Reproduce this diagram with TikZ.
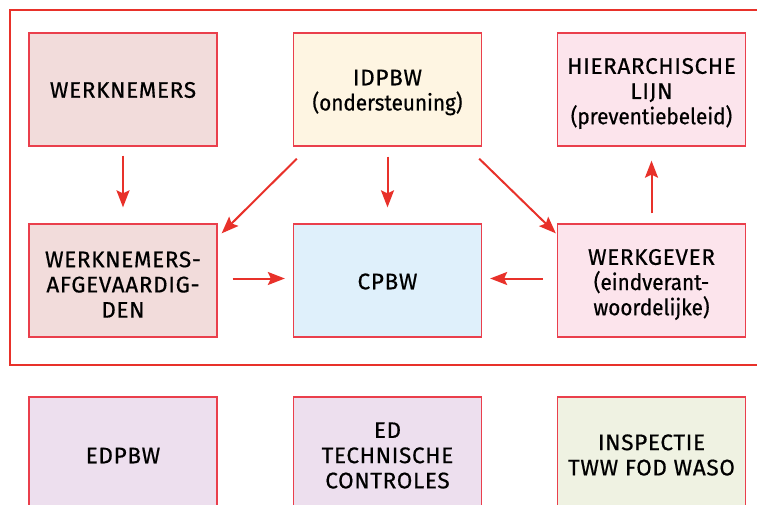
\documentclass[tikz,border=0pt]{standalone}
\usepackage{fontspec}
\setmainfont{Fira Sans}[LetterSpace=3, FakeBold=0.6]
\newfontfamily\lcfamily{Fira Sans}[FakeStretch=0.92, FakeBold=0.6]
\newcommand{\lcline}[1]{{\lcfamily #1}}
\usetikzlibrary{arrows.meta,calc}
\definecolor{frame}{HTML}{E8312A}
\definecolor{boxline}{HTML}{EA3F4C}
\definecolor{fA}{HTML}{F2DCDB}
\definecolor{fB}{HTML}{FEF5E2}
\definecolor{fC}{HTML}{FCE4EC}
\definecolor{fD}{HTML}{DFF0FB}
\definecolor{fE}{HTML}{EDDFEE}
\definecolor{fF}{HTML}{EFF2E2}
\tikzset{
  box/.style={draw=boxline, line width=1.3pt, minimum width=188pt, minimum height=113pt,
    inner sep=0pt},
  lbl/.style={inner sep=0pt, align=center, font=\fontsize{22.5}{25.2}\selectfont, text=black},
  arr/.style={draw=frame, line width=2pt, -{Stealth[length=17pt,width=13pt,inset=3pt]}}
}
\begin{document}
\begin{tikzpicture}[x=1pt,y=-1pt]
\useasboundingbox (0,0) rectangle (757,505);
\clip (0,0) rectangle (757,505);
\draw[frame, line width=1.2pt] (10,10) rectangle (790,365);
\node[box, fill=fA, label={[lbl,yshift=-0.5pt]center:{WERKNEMERS}}] (wn) at (123,89.5) {};
\node[box, fill=fB, label={[lbl,yshift=-3pt]center:{IDPBW\\\lcline{(ondersteuning)}}}] (id) at (387.5,89.5) {};
\node[box, fill=fC, label={[lbl,yshift=-4pt]center:{HIERARCHISCHE\\LIJN\\\lcline{(preventiebeleid)}}}] (hl) at (651.5,89.5) {};
\node[box, fill=fA, label={[lbl,yshift=-4pt]center:{WERKNEMERS-\\AFGEVAARDIG-\\DEN}}] (wa) at (123,280.5) {};
\node[box, fill=fD, label={[lbl,yshift=-1pt]center:{CPBW}}] (cp) at (387.5,280.5) {};
\node[box, fill=fC, label={[lbl,yshift=-4pt]center:{WERKGEVER\\\lcline{(eindverant-}\\\lcline{woordelijke)}}}] (wg) at (651.5,280.5) {};
\node[box, fill=fE, label={[lbl,yshift=-2pt]center:{EDPBW}}] (ed) at (123,453.5) {};
\node[box, fill=fE, label={[lbl,yshift=-2pt]center:{ED\\TECHNISCHE\\CONTROLES}}] (tc) at (387.5,453.5) {};
\node[box, fill=fF, label={[lbl,yshift=-1.5pt]center:{INSPECTIE\\TWW FOD WASO}}] (in) at (651.5,453.5) {};
\draw[arr, shorten <=9pt, shorten >=16pt] (wn) -- (wa);
\draw[arr, shorten <=10pt, shorten >=16pt] (id) -- (cp);
\draw[arr, shorten <=10pt, shorten >=14pt] (wg) -- (hl);
\draw[arr] ([shift={(4,12)}]id.south west) -- ([shift={(4,10)}]wa.north east);
\draw[arr] ([shift={(-3,12)}]id.south east) -- ([shift={(-1,10)}]wg.north west);
\draw[arr, shorten <=15pt, shorten >=8pt] ([yshift=2pt]wa.east) -- ([yshift=2pt]cp.west);
\draw[arr, shorten <=14pt, shorten >=8pt] ([yshift=2pt]wg.west) -- ([yshift=2pt]cp.east);
\end{tikzpicture}
\end{document}
